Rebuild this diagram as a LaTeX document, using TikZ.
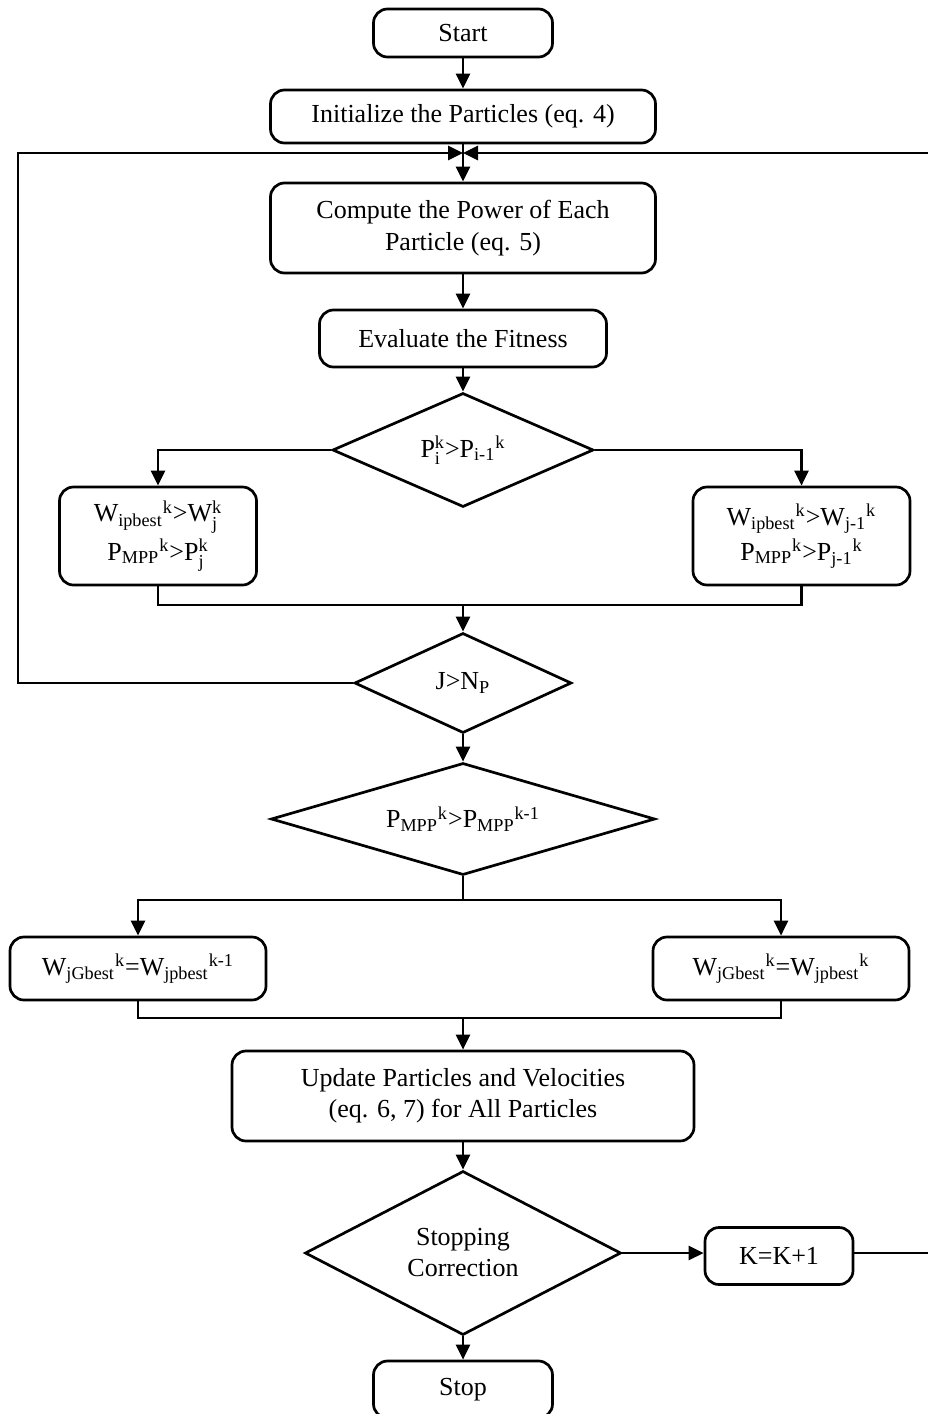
\documentclass[tikz,border=0pt]{standalone}
\usepackage{amsmath}
\usepackage{fontspec}
\setmainfont{Liberation Serif}
\usetikzlibrary{arrows.meta,shapes.geometric}

% index helpers: stacked sub/sup and sub followed by sup
\newcommand{\stackidx}[3]{#1$^{\text{#3}}_{\text{#2}}$}
\newcommand{\chainidx}[3]{#1\textsubscript{#2}\textsuperscript{#3}}

\begin{document}
\begin{tikzpicture}[
    x=0.5pt, y=-0.5pt,
    font=\fontsize{13pt}{15.5pt}\selectfont,
    box/.style={
        draw,
        rounded corners=7pt,
        line width=1.35pt,
        align=center,
        inner sep=2pt
    },
    decision/.style={draw, diamond, line width=1.35pt, align=center,
                     inner sep=0pt},
    flow/.style={-{Triangle[length=7.5pt,width=7pt]}, line width=1.35pt},
    link/.style={line width=1.35pt}
]
\useasboundingbox (0,0) rectangle (927,1414);

% Initialisation
\node[box, minimum width=89.5pt, minimum height=24pt] (start) at (463,33) {Start};
\node[box, minimum width=192.5pt, minimum height=26.5pt] (init) at (463,116.5)
    {Initialize the Particles (eq. 4)};
\coordinate (merge) at (463,153);

% Fitness of the particles
\node[box, minimum width=192.5pt, minimum height=45pt,
      font=\fontsize{13pt}{16pt}\selectfont] (power) at (463,228)
    {Compute the Power of Each\\Particle (eq. 5)};
\node[box, minimum width=143.5pt, minimum height=28.5pt] (fitness) at (463,338.5)
    {Evaluate the Fitness};
\node[decision, aspect=2.29, minimum width=130.5pt, minimum height=57pt] (cmp)
    at (463,450) {\stackidx{P}{i}{k}>\chainidx{P}{i-1}{k}};

% Personal best update
\node[box, minimum width=98.5pt, minimum height=49pt] (keep) at (158,536)
    {\chainidx{W}{ipbest}{k}>\stackidx{W}{j}{k}\\[2pt]
     \chainidx{P}{MPP}{k}>\stackidx{P}{j}{k}};
\node[box, minimum width=108.5pt, minimum height=49pt] (swap) at (801.5,536)
    {\chainidx{W}{ipbest}{k}>\chainidx{W}{j-1}{k}\\[2pt]
     \chainidx{P}{MPP}{k}>\chainidx{P}{j-1}{k}};
\coordinate (join1) at (463,605);
\node[decision, aspect=2.17, minimum width=108.5pt, minimum height=50pt] (count)
    at (463,683) {J>N\textsubscript{P}};

% Global best update
\node[decision, aspect=3.43, minimum width=192pt, minimum height=56pt] (mpp)
    at (463,819) {\chainidx{P}{MPP}{k}>\chainidx{P}{MPP}{k-1}};
\coordinate (split) at (463,900);
\node[box, minimum width=128pt, minimum height=31.5pt] (gold) at (138,968.5)
    {\chainidx{W}{jGbest}{k}=\chainidx{W}{jpbest}{k-1}};
\node[box, minimum width=128pt, minimum height=31.5pt] (gnew) at (781,968.5)
    {\chainidx{W}{jGbest}{k}=\chainidx{W}{jpbest}{k}};
\coordinate (join2) at (463,1018);

% Swarm update and stopping test
\node[box, minimum width=231pt, minimum height=45pt] (update) at (463,1096)
    {Update Particles and Velocities\\(eq. 6, 7) for All Particles};
\node[decision, aspect=1.93, minimum width=158pt, minimum height=82pt] (stopcrit)
    at (463,1253) {Stopping\\Correction};
\node[box, minimum width=74pt, minimum height=28.5pt] (kinc) at (779,1256) {K=K+1};
\node[box, minimum width=89.5pt, minimum height=28.5pt] (stop) at (463,1389.5) {Stop};

% Main flow
\draw[flow] (start) -- (init);
\draw[flow] (init) -- (power);
\draw[flow] (power) -- (fitness);
\draw[flow] (fitness) -- (cmp);
\draw[flow] (cmp.west) -| (keep.north);
\draw[flow] (cmp.east) -| (swap.north);
\draw[link] (keep) |- (join1) -| (swap);
\draw[flow] (join1) -- (count);
\draw[flow] (count) -- (mpp);
\draw[link] (mpp) -- (split);
\draw[flow] (split) -| (gold);
\draw[flow] (split) -| (gnew);
\draw[link] (gold) |- (join2) -| (gnew);
\draw[flow] (join2) -- (update);
\draw[flow] (update) -- (stopcrit);
\draw[flow] (stopcrit.east) -- (stopcrit.east -| kinc.west);
\draw[flow] (stopcrit) -- (stop);

% Loops back to the power computation
\draw[flow] (count.west) -- (18,683) |- (merge);
\draw[flow] (kinc.east |- stopcrit.east) -- (930,1253) |- (merge);

\end{tikzpicture}
\end{document}
